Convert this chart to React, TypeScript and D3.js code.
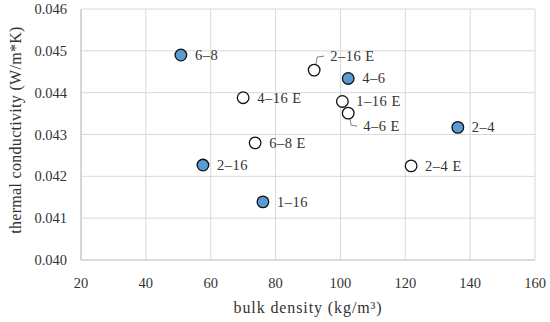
import React from "react";
import * as d3 from "d3";

const labels = ["6–8", "2–16", "1–16", "4–6", "2–4", "4–16 E", "6–8 E", "2–16 E", "1–16 E", "4–6 E", "2–4 E"];
const density = [50.8, 57.6, 76.1, 102.4, 136.2, 70.0, 73.7, 91.9, 100.6, 102.4, 121.8];
const conductivity = [0.0449, 0.04227, 0.04139, 0.04434, 0.04317, 0.04388, 0.0428, 0.04454, 0.04379, 0.04351, 0.04225];
const expanded = [false, false, false, false, false, true, true, true, true, true, true];
const xTicks = [20, 40, 60, 80, 100, 120, 140, 160];
const yTicks = [0.04, 0.041, 0.042, 0.043, 0.044, 0.045, 0.046];

const W = 550, H = 322;
const font = "'Liberation Serif', 'DejaVu Serif', serif";

export default function App() {
  const x = d3.scaleLinear().domain([20, 160]).range([81, 535]);
  const y = d3.scaleLinear().domain([0.04, 0.046]).range([260, 9]);
  const fs = 14.5;
  return (
    <svg width={W} height={H} style={{ position: "absolute", left: 0, top: 0, background: "#fff" }}>
      <rect width={W} height={H} fill="#fff" />
      {xTicks.map((t) => (
        <line key={"gx" + t} x1={x(t)} x2={x(t)} y1={y(0.046)} y2={y(0.04)} stroke="#d9d9d9" strokeWidth={1} />
      ))}
      {yTicks.map((t) => (
        <line key={"gy" + t} x1={x(20)} x2={x(160)} y1={y(t)} y2={y(t)} stroke="#d9d9d9" strokeWidth={1} />
      ))}
      <line x1={x(20)} x2={x(160)} y1={y(0.04)} y2={y(0.04)} stroke="#c8c8c8" strokeWidth={1.2} />
      <line x1={x(20)} x2={x(20)} y1={y(0.046)} y2={y(0.04)} stroke="#c8c8c8" strokeWidth={1.2} />
      {xTicks.map((t) => (
        <text key={"tx" + t} x={x(t)} y={288} textAnchor="middle" fontFamily={font} fontSize={fs} fill="#333">
          {t}
        </text>
      ))}
      {yTicks.map((t) => (
        <text key={"ty" + t} x={67} y={y(t) + 5} textAnchor="end" fontFamily={font} fontSize={fs} fill="#333">
          {d3.format(".3f")(t)}
        </text>
      ))}
      <text x={308} y={313} textAnchor="middle" fontFamily={font} fontSize={16} letterSpacing={0.9} fill="#333">
        bulk density (kg/m³)
      </text>
      <text
        transform={`translate(21, 130) rotate(-90)`}
        textAnchor="middle"
        fontFamily={font}
        fontSize={16}
        letterSpacing={0.3}
        fill="#333"
      >
        thermal conductivity (W/m*K)
      </text>
      {labels.map((l, i) => {
        const cx = x(density[i]);
        const cy = y(conductivity[i]);
        let lx = cx + 14;
        let ly = cy + 5;
        let leader = null;
        if (l === "2–16 E") {
          lx = cx + 16;
          ly = cy - 9;
          leader = <polyline points={`${cx + 1},${cy - 1} ${cx + 3},${cy - 13} ${cx + 10},${cy - 14}`} fill="none" stroke="#7f7f7f" strokeWidth={1} />;
        }
        if (l === "4–6 E") {
          lx = cx + 15;
          ly = cy + 18;
          leader = <polyline points={`${cx + 1},${cy + 2} ${cx + 3},${cy + 12} ${cx + 9},${cy + 13}`} fill="none" stroke="#7f7f7f" strokeWidth={1} />;
        }
        return (
          <g key={l}>
            {leader}
            <text x={lx} y={ly} fontFamily={font} fontSize={fs} letterSpacing={0.5} fill="#333">
              {l}
            </text>
          </g>
        );
      })}
      {labels.map((l, i) => (
        <circle
          key={"c" + l}
          cx={x(density[i])}
          cy={y(conductivity[i])}
          r={5.8}
          fill={expanded[i] ? "#fff" : "#5b9bd5"}
          stroke="#111"
          strokeWidth={1.3}
        />
      ))}
    </svg>
  );
}
